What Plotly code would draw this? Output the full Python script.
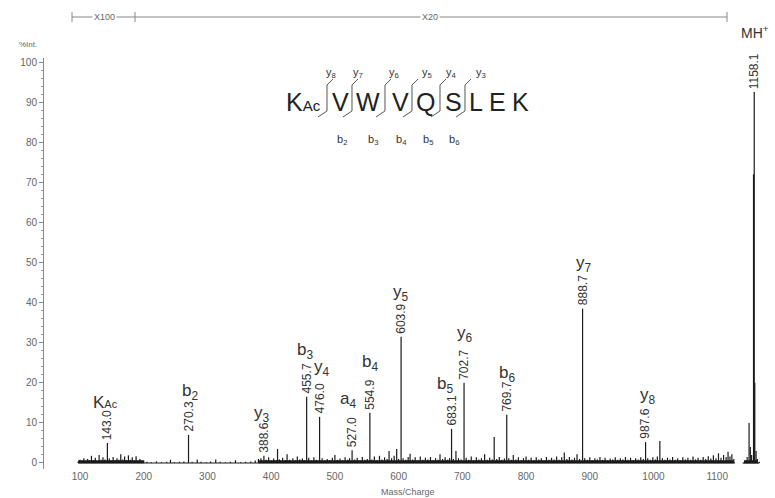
import plotly.graph_objects as go

# ---------------- data ----------------
peak_mz = [143.0, 270.3, 388.6, 455.7, 476.0, 527.0, 554.9, 603.9, 683.1, 702.7, 769.7, 888.7, 987.6, 1158.1]
peak_int = [5.0, 7.0, 1.8, 16.5, 11.5, 3.2, 12.5, 31.5, 8.5, 20.0, 12.0, 38.5, 5.2, 92.5]
peak_labels = ["143.0", "270.3", "388.6", "455.7", "476.0", "527.0", "554.9", "603.9", "683.1", "702.7", "769.7", "888.7", "987.6", "1158.1"]

noise_mz = [97, 100, 103, 106, 109, 112, 115, 118, 121, 124, 127, 130, 133, 136, 139, 146, 149, 152, 155, 158,
            161, 164, 167, 170, 173, 176, 179, 182, 185, 188, 191, 194, 197, 200,
            205, 212, 220, 228, 236, 242, 248, 256, 263, 276, 284, 290, 298, 305, 313, 320, 328, 336, 344, 352,
            360, 368, 375, 380,
            384, 392, 396, 400, 404, 408, 410, 413, 418, 422, 425, 429, 434, 438, 441, 445, 449, 452, 459, 463,
            467, 471, 480, 484, 488, 492, 496, 500, 504, 508, 512, 516, 520, 523, 531, 535, 539, 543, 547, 551,
            558, 562, 566, 570, 574, 578, 582, 585, 589, 593, 597, 600, 607, 611, 615, 618, 622, 626, 630, 634,
            638, 642, 646, 650, 654, 658, 662, 665, 669, 673, 677, 680, 686, 690, 694, 698, 706, 710, 714, 718,
            722, 726, 730, 735, 739, 743, 747, 750, 754, 758, 762, 766, 773, 777, 780, 784, 788, 792, 796, 800,
            804, 808, 812, 816, 820, 824, 828, 832, 836, 840, 844, 848, 852, 856, 860, 864, 868, 872, 876, 880,
            884, 892, 896, 900, 904, 908, 912, 916, 920, 924, 928, 932, 936, 940, 944, 948, 952, 956, 960, 964,
            968, 972, 976, 980, 984, 991, 995, 999, 1003, 1006, 1010, 1014, 1018, 1022, 1026, 1030, 1034, 1038,
            1042, 1046, 1050, 1054, 1058, 1062, 1066, 1070, 1074, 1078, 1082, 1086, 1090, 1094, 1098, 1102, 1106,
            1110, 1114, 1117, 1120, 1123, 1126, 1144, 1147, 1150, 1152, 1154, 1157, 1159, 1161, 1163, 1166]
noise_int = [0.3, 0.8, 0.4, 1.2, 0.5, 1.0, 0.6, 1.8, 0.7, 1.3, 0.5, 2.0, 0.8, 1.4, 0.9, 1.1, 0.6, 1.5, 0.7, 1.2,
             0.8, 2.2, 0.9, 1.6, 0.7, 1.9, 0.8, 1.4, 0.6, 1.7, 0.5, 1.0, 0.4, 0.6,
             0.3, 0.2, 0.4, 0.2, 0.3, 0.8, 0.2, 0.3, 0.4, 0.3, 0.9, 0.3, 0.2, 0.4, 0.9, 0.3, 0.2, 0.3, 0.7, 0.2,
             0.3, 0.4, 0.6, 1.0,
             1.2, 0.8, 1.4, 0.6, 1.1, 0.7, 3.5, 0.9, 1.3, 0.6, 2.2, 0.8, 1.2, 0.6, 1.6, 0.9, 1.1, 0.7, 1.3, 0.6,
             1.4, 0.8, 1.2, 0.6, 1.0, 0.7, 1.3, 2.0, 0.8, 1.1, 0.6, 1.4, 0.8, 1.2, 0.9, 1.3, 0.6, 1.5, 0.8, 1.0,
             0.9, 1.6, 0.7, 1.8, 0.9, 1.4, 1.0, 3.0, 1.2, 1.8, 3.5, 1.0, 1.2, 0.8, 1.5, 2.3, 0.9, 1.4, 0.7, 1.6,
             0.8, 1.3, 0.9, 1.5, 0.7, 1.2, 0.8, 2.2, 1.0, 1.4, 0.8, 1.2, 1.0, 3.0, 1.2, 0.9, 1.3, 0.8, 1.6, 0.7,
             1.4, 0.9, 1.2, 2.2, 0.8, 1.3, 0.9, 6.5, 1.0, 1.5, 0.8, 1.1, 1.2, 0.8, 2.0, 0.9, 1.4, 0.7, 1.2, 1.6,
             0.8, 1.3, 0.7, 1.4, 0.9, 1.2, 0.7, 1.5, 0.8, 1.3, 0.9, 1.6, 0.8, 1.4, 2.6, 1.0, 1.5, 0.9, 1.3, 2.2,
             1.0, 1.2, 0.8, 1.4, 0.7, 1.2, 0.9, 1.5, 0.8, 1.3, 0.7, 1.1, 0.9, 1.4, 0.8, 1.2, 0.9, 1.5, 0.8, 1.3,
             0.7, 1.2, 0.9, 1.4, 1.0, 1.2, 0.8, 1.4, 0.9, 1.6, 5.5, 1.2, 0.8, 1.3, 0.9, 1.5, 0.8, 1.2,
             0.7, 1.4, 0.9, 1.3, 0.8, 1.6, 0.9, 1.3, 0.8, 1.5, 1.0, 1.7, 1.1, 1.9, 1.2, 2.4, 1.3,
             2.0, 1.5, 2.8, 1.6, 2.2, 1.0, 0.6, 1.5, 10.0, 4.0, 2.0, 72.0, 20.0, 3.0, 1.0, 0.3]

baseline_segments = [(97, 1128), (1140, 1166)]
noisy_segments = [(97, 200), (380, 1126), (1142, 1164)]

x_ticks = [100, 200, 300, 400, 500, 600, 700, 800, 900, 1000, 1100]
y_ticks = [0, 10, 20, 30, 40, 50, 60, 70, 80, 90, 100]

# ion annotations: label html, pixel centre (layout only)
ion_labels = ["K<span style='font-size:11px'>Ac</span>", "b<sub>2</sub>", "y<sub>3</sub>", "b<sub>3</sub>",
              "y<sub>4</sub>", "a<sub>4</sub>", "b<sub>4</sub>", "y<sub>5</sub>", "b<sub>5</sub>",
              "y<sub>6</sub>", "b<sub>6</sub>", "y<sub>7</sub>", "y<sub>8</sub>"]
ion_pos = [(105, 402), (190, 392), (262, 414), (305, 351), (322, 368), (348, 400), (370, 363), (401, 293),
           (445, 385), (465, 334), (507, 374), (584, 264), (648, 396)]

sequence = ["K<span style='font-size:15px'>Ac</span>", "V", "W", "V", "Q", "S", "L", "E", "K"]
seq_x = [303, 340, 368, 400, 425, 453, 476, 497, 520]
bracket_x = [327, 352, 385, 412, 440, 465]
y_frag = ["y<sub>8</sub>", "y<sub>7</sub>", "y<sub>6</sub>", "y<sub>5</sub>", "y<sub>4</sub>", "y<sub>3</sub>"]
y_frag_x = [331, 358, 394, 427, 451, 481]
b_frag = ["b<sub>2</sub>", "b<sub>3</sub>", "b<sub>4</sub>", "b<sub>5</sub>", "b<sub>6</sub>"]
b_frag_x = [342, 373, 401, 428, 454]

# ---------------- geometry helpers ----------------
W, H = 775, 498
ML, MR, MT, MB = 44, 10, 58, 29
PW, PH = W - ML - MR, H - MT - MB


def px(x, y):
    return (x - ML) / PW, (H - MB - y) / PH


# spectrum drawn as sticks from zero
pts = sorted(list(zip(noise_mz, noise_int)) + list(zip(peak_mz, peak_int)))
spec_x, spec_y = [], []
for m, h in pts:
    spec_x += [m, m, None]
    spec_y += [0, h, None]
base_x, base_y = [], []
for a, b in baseline_segments:
    base_x += [a, b, None]
    base_y += [0, 0, None]
band_x, band_y = [], []
for a, b in noisy_segments:
    band_x += [a, b, None]
    band_y += [0.3, 0.3, None]

FONT = "Liberation Sans, Arial, sans-serif"
TXT = "#333333"
GRY = "#666666"
INK = "#1a1a1a"

fig = go.Figure()
fig.add_trace(go.Scatter(x=base_x, y=base_y, mode="lines",
                         line=dict(color=INK, width=1.2), hoverinfo="skip", showlegend=False))
fig.add_trace(go.Scatter(x=band_x, y=band_y, mode="lines",
                         line=dict(color=INK, width=3), hoverinfo="skip", showlegend=False))
fig.add_trace(go.Scatter(x=spec_x, y=spec_y, mode="lines",
                         line=dict(color=INK, width=1.2), hoverinfo="skip", showlegend=False))

ann = []
shapes = []


def ptxt(x, y, text, size, color=TXT, **kw):
    xx, yy = px(x, y)
    d = dict(x=xx, y=yy, xref="paper", yref="paper", text=text, showarrow=False,
             xanchor="center", yanchor="middle", font=dict(family=FONT, size=size, color=color))
    d.update(kw)
    ann.append(d)


# m/z labels above peaks
for m, h, t in zip(peak_mz, peak_int, peak_labels):
    ann.append(dict(x=m, y=h, xref="x", yref="y", text=t, textangle=-90, showarrow=False,
                    yanchor="bottom", xanchor="center", yshift=1,
                    font=dict(family=FONT, size=12, color=TXT)))

# ion labels
for t, (x, y) in zip(ion_labels, ion_pos):
    ptxt(x, y, t, 17)

# MH+
ptxt(755, 32, "MH<sup>+</sup>", 14)

# sequence diagram
for t, x in zip(sequence, seq_x):
    ptxt(x, 102, t, 25, "#222222")
for t, x in zip(y_frag, y_frag_x):
    ptxt(x, 73, t, 11)
for t, x in zip(b_frag, b_frag_x):
    ptxt(x, 140, t, 11)
for bx in bracket_x:
    p = [px(bx + 6, 79), px(bx, 85), px(bx, 111), px(bx - 9, 117)]
    path = "M {:.5f},{:.5f} L {:.5f},{:.5f} L {:.5f},{:.5f} L {:.5f},{:.5f}".format(
        p[0][0], p[0][1], p[1][0], p[1][1], p[2][0], p[2][1], p[3][0], p[3][1])
    shapes.append(dict(type="path", path=path, xref="paper", yref="paper",
                       line=dict(color="#555555", width=1)))

# top magnification bar
bar_y = px(0, 17)[1]
bar_tick = 5 / PH
for x0 in [72, 135, 727]:
    xx = px(x0, 0)[0]
    shapes.append(dict(type="line", xref="paper", yref="paper", x0=xx, x1=xx,
                       y0=bar_y - bar_tick, y1=bar_y + bar_tick, line=dict(color="#888888", width=1)))
shapes.append(dict(type="line", xref="paper", yref="paper", x0=px(72, 0)[0], x1=px(727, 0)[0],
                   y0=bar_y, y1=bar_y, line=dict(color="#888888", width=1)))
for t, x in [("X100", 104), ("X20", 430)]:
    ptxt(x, 17, t, 9, GRY, bgcolor="white", borderpad=1)

# axis titles
ptxt(28, 44, "%Int.", 8, GRY)
ptxt(408, 492, "Mass/Charge", 9, GRY)

fig.update_layout(
    width=W, height=H,
    margin=dict(l=ML, r=MR, t=MT, b=MB),
    paper_bgcolor="white", plot_bgcolor="white",
    showlegend=False, hovermode=False,
    annotations=ann, shapes=shapes,
    xaxis=dict(range=[43.5, 1175], tickvals=x_ticks, showgrid=False, zeroline=False,
               showline=False, ticks="", tickfont=dict(family=FONT, size=10, color=GRY)),
    yaxis=dict(range=[-1.5, 101], tickvals=y_ticks, showgrid=False, zeroline=False,
               showline=True, linecolor="#888888", linewidth=1,
               ticks="outside", ticklen=4, tickcolor="#888888",
               minor=dict(dtick=2, ticks="outside", ticklen=2, tickcolor="#999999"),
               tickfont=dict(family=FONT, size=10, color=GRY)),
)

fig.write_html("out.html")
